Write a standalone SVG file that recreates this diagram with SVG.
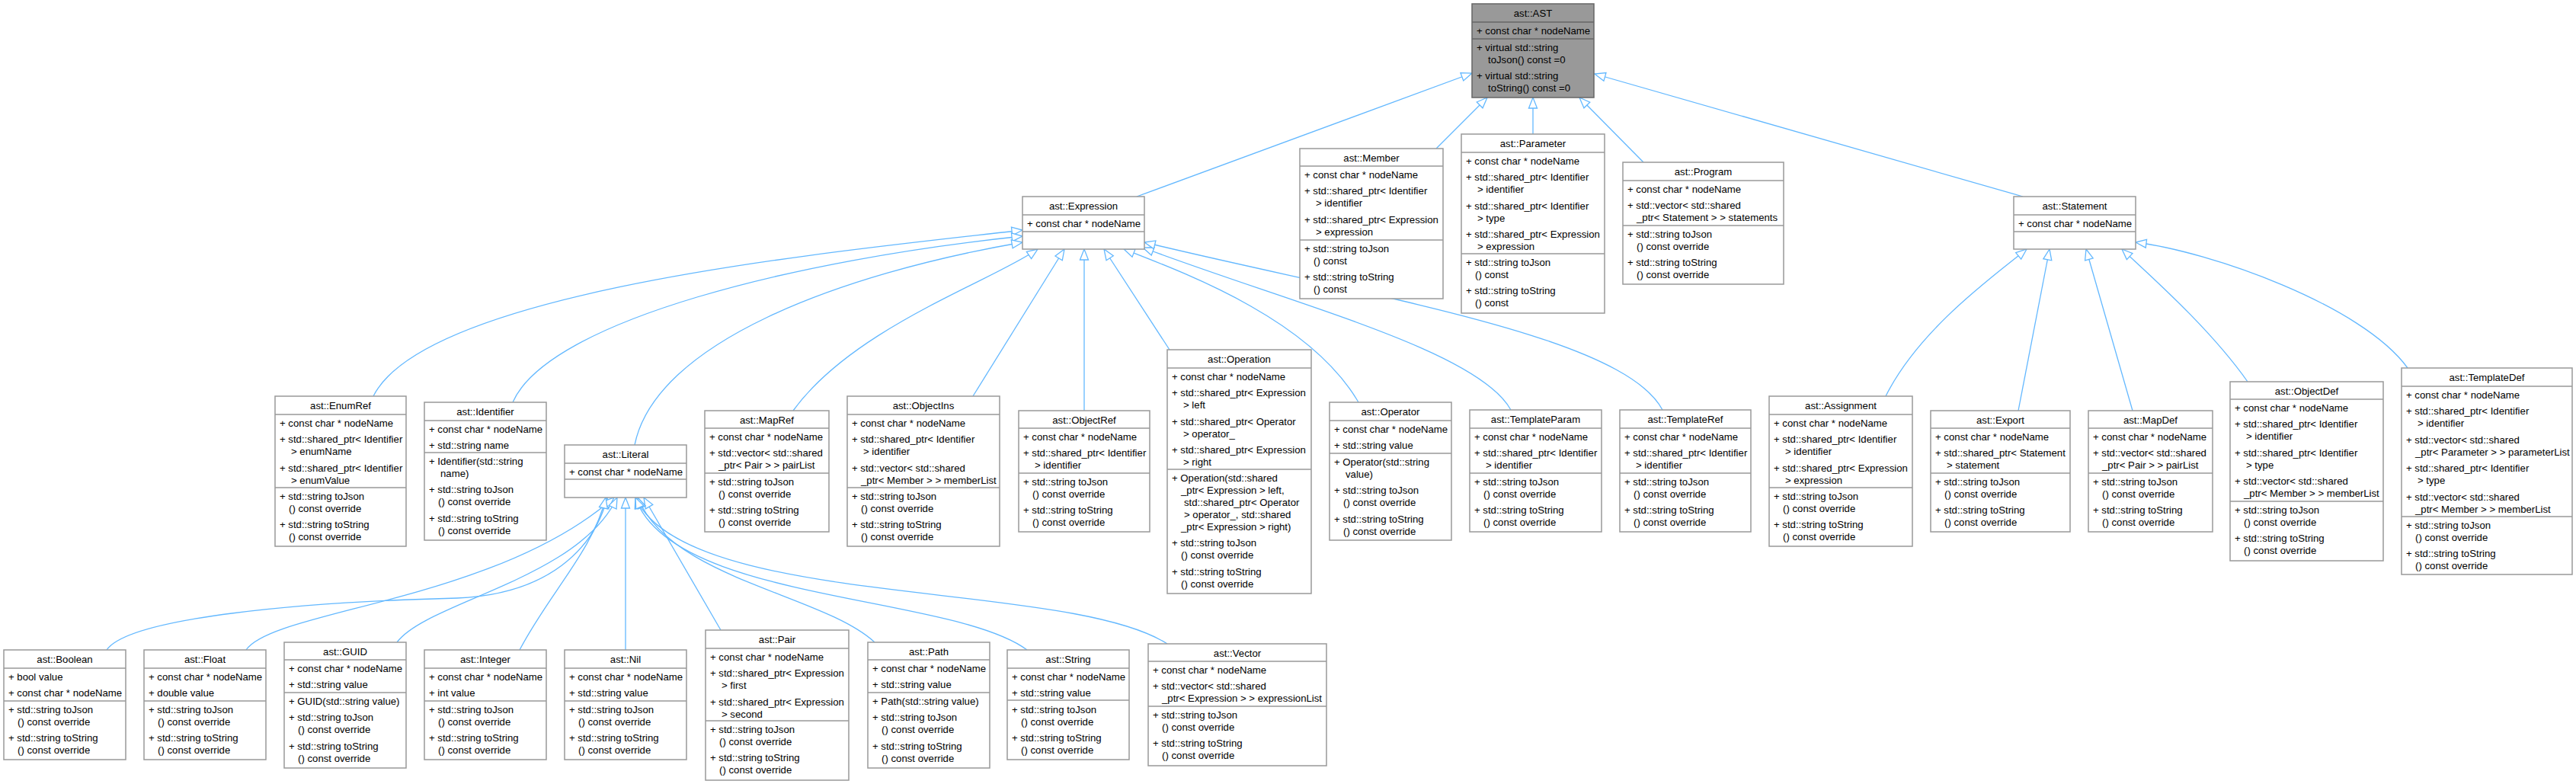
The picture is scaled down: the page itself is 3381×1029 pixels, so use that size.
<svg xmlns="http://www.w3.org/2000/svg" width="3381" height="1029" viewBox="0 0 3381 1029">
<style>
.b{fill:#fff;stroke:#999;stroke-width:1.5}
.a{fill:#999;stroke:#666;stroke-width:1.5}
.s{stroke:#999;stroke-width:1.5;fill:none}
.sa{stroke:#666;stroke-width:1.5;fill:none}
text{font-family:"Liberation Sans",Arial,sans-serif;font-size:13.2px;fill:#000}
.h{text-anchor:middle}
.e{fill:none;stroke:#63B8FF;stroke-width:1.3;marker-end:url(#ah)}
</style>
<defs>
<marker id="ah" markerUnits="userSpaceOnUse" markerWidth="18" markerHeight="14" refX="15" refY="6" orient="auto" overflow="visible">
<path d="M1,0.5 L15,6 L1,11.5 Z" fill="#fff" stroke="#63B8FF" stroke-width="1.3"/>
</marker>
</defs>
<rect width="3381" height="1029" fill="#fff"/>
<g id="connectors">
<path class="e" d="M1492,258 L1932,96"/>
<path class="e" d="M1885,195 L1952,128"/>
<path class="e" d="M2012,176 L2012,128"/>
<path class="e" d="M2157,213 L2073,128"/>
<path class="e" d="M2655,258 L2093,97"/>
<path class="e" d="M490,520 C560,380 1100,330 1342,302"/>
<path class="e" d="M673,528 C720,420 1050,340 1342,310"/>
<path class="e" d="M833,584 C860,450 1100,360 1342,318"/>
<path class="e" d="M1041,539 C1120,430 1300,370 1362,327"/>
<path class="e" d="M1277,520 L1397,327"/>
<path class="e" d="M1423,539 L1423,327"/>
<path class="e" d="M1535,459 L1449,327"/>
<path class="e" d="M1783,528 C1720,420 1560,360 1475,327"/>
<path class="e" d="M1983,538 C1940,460 1700,400 1500,325"/>
<path class="e" d="M2182,538 C2130,440 1800,390 1502,318"/>
<path class="e" d="M2475,520 C2520,430 2620,360 2660,327"/>
<path class="e" d="M2649,539 L2690,327"/>
<path class="e" d="M2799,539 L2738,327"/>
<path class="e" d="M2950,501 C2900,430 2820,360 2785,327"/>
<path class="e" d="M3160,483 C3100,400 2900,330 2803,318"/>
<path class="e" d="M140,853 C170,810 400,790 600,785 C720,780 780,720 797,653"/>
<path class="e" d="M323,853 C360,800 650,790 806,653"/>
<path class="e" d="M521,843 C560,790 760,760 810,653"/>
<path class="e" d="M682,853 C720,780 780,720 795,653"/>
<path class="e" d="M821,853 L821,653"/>
<path class="e" d="M946,827 L845,653"/>
<path class="e" d="M1148,843 C1080,780 880,760 837,653"/>
<path class="e" d="M1348,853 C1250,780 880,790 834,653"/>
<path class="e" d="M1532,845 C1400,760 900,800 834,653"/>
</g>
<g id="AST">
<rect class="a" x="1932" y="5" width="160" height="123"/>
<path class="sa" d="M1932,29h160M1932,51h160"/>
<text class="h" x="2012" y="21.5">ast::AST</text>
<text x="1938" y="44.5">+ const char * nodeName</text>
<text x="1938" y="66.5">+ virtual std::string</text>
<text x="1953" y="82.5">toJson() const =0</text>
<text x="1938" y="104">+ virtual std::string</text>
<text x="1953" y="120">toString() const =0</text>
</g>
<g id="Member">
<rect class="b" x="1706" y="195" width="188" height="197"/>
<path class="s" d="M1706,218h188M1706,315h188"/>
<text class="h" x="1800" y="211.5">ast::Member</text>
<text x="1712" y="233.5">+ const char * nodeName</text>
<text x="1712" y="255">+ std::shared_ptr&lt; Identifier</text>
<text x="1727" y="271">&gt; identifier</text>
<text x="1712" y="292.5">+ std::shared_ptr&lt; Expression</text>
<text x="1727" y="308.5">&gt; expression</text>
<text x="1712" y="330.5">+ std::string toJson</text>
<text x="1724" y="346.5">() const</text>
<text x="1712" y="368">+ std::string toString</text>
<text x="1724" y="384">() const</text>
</g>
<g id="Parameter">
<rect class="b" x="1918" y="176" width="188" height="235"/>
<path class="s" d="M1918,200h188M1918,333h188"/>
<text class="h" x="2012" y="192.5">ast::Parameter</text>
<text x="1924" y="215.5">+ const char * nodeName</text>
<text x="1924" y="237">+ std::shared_ptr&lt; Identifier</text>
<text x="1939" y="253">&gt; identifier</text>
<text x="1924" y="274.5">+ std::shared_ptr&lt; Identifier</text>
<text x="1939" y="290.5">&gt; type</text>
<text x="1924" y="312">+ std::shared_ptr&lt; Expression</text>
<text x="1939" y="328">&gt; expression</text>
<text x="1924" y="348.5">+ std::string toJson</text>
<text x="1936" y="364.5">() const</text>
<text x="1924" y="386">+ std::string toString</text>
<text x="1936" y="402">() const</text>
</g>
<g id="Program">
<rect class="b" x="2130" y="213" width="211" height="160"/>
<path class="s" d="M2130,237h211M2130,296h211"/>
<text class="h" x="2235.5" y="229.5">ast::Program</text>
<text x="2136" y="252.5">+ const char * nodeName</text>
<text x="2136" y="274">+ std::vector&lt; std::shared</text>
<text x="2148" y="290">_ptr&lt; Statement &gt; &gt; statements</text>
<text x="2136" y="311.5">+ std::string toJson</text>
<text x="2148" y="327.5">() const override</text>
<text x="2136" y="349">+ std::string toString</text>
<text x="2148" y="365">() const override</text>
</g>
<g id="Expression">
<rect class="b" x="1342" y="258" width="160" height="69"/>
<path class="s" d="M1342,282h160M1342,304h160"/>
<text class="h" x="1422" y="274.5">ast::Expression</text>
<text x="1348" y="297.5">+ const char * nodeName</text>
</g>
<g id="Statement">
<rect class="b" x="2643" y="258" width="160" height="69"/>
<path class="s" d="M2643,282h160M2643,304h160"/>
<text class="h" x="2723" y="274.5">ast::Statement</text>
<text x="2649" y="297.5">+ const char * nodeName</text>
</g>
<g id="EnumRef">
<rect class="b" x="361" y="520" width="172" height="197"/>
<path class="s" d="M361,544h172M361,640h172"/>
<text class="h" x="447" y="536.5">ast::EnumRef</text>
<text x="367" y="559.5">+ const char * nodeName</text>
<text x="367" y="581">+ std::shared_ptr&lt; Identifier</text>
<text x="382" y="597">&gt; enumName</text>
<text x="367" y="618.5">+ std::shared_ptr&lt; Identifier</text>
<text x="382" y="634.5">&gt; enumValue</text>
<text x="367" y="655.5">+ std::string toJson</text>
<text x="379" y="671.5">() const override</text>
<text x="367" y="693">+ std::string toString</text>
<text x="379" y="709">() const override</text>
</g>
<g id="Identifier">
<rect class="b" x="557" y="528" width="160" height="181"/>
<path class="s" d="M557,552h160M557,594h160"/>
<text class="h" x="637" y="544.5">ast::Identifier</text>
<text x="563" y="567.5">+ const char * nodeName</text>
<text x="563" y="589">+ std::string name</text>
<text x="563" y="609.5">+ Identifier(std::string</text>
<text x="578" y="625.5">name)</text>
<text x="563" y="647">+ std::string toJson</text>
<text x="575" y="663">() const override</text>
<text x="563" y="684.5">+ std::string toString</text>
<text x="575" y="700.5">() const override</text>
</g>
<g id="Literal">
<rect class="b" x="741" y="584" width="160" height="69"/>
<path class="s" d="M741,608h160M741,629h160"/>
<text class="h" x="821" y="600.5">ast::Literal</text>
<text x="747" y="623.5">+ const char * nodeName</text>
</g>
<g id="MapRef">
<rect class="b" x="925" y="539" width="163" height="159"/>
<path class="s" d="M925,562h163M925,621h163"/>
<text class="h" x="1006.5" y="555.5">ast::MapRef</text>
<text x="931" y="577.5">+ const char * nodeName</text>
<text x="931" y="599">+ std::vector&lt; std::shared</text>
<text x="943" y="615">_ptr&lt; Pair &gt; &gt; pairList</text>
<text x="931" y="636.5">+ std::string toJson</text>
<text x="943" y="652.5">() const override</text>
<text x="931" y="674">+ std::string toString</text>
<text x="943" y="690">() const override</text>
</g>
<g id="ObjectIns">
<rect class="b" x="1112" y="520" width="200" height="197"/>
<path class="s" d="M1112,544h200M1112,640h200"/>
<text class="h" x="1212" y="536.5">ast::ObjectIns</text>
<text x="1118" y="559.5">+ const char * nodeName</text>
<text x="1118" y="581">+ std::shared_ptr&lt; Identifier</text>
<text x="1133" y="597">&gt; identifier</text>
<text x="1118" y="618.5">+ std::vector&lt; std::shared</text>
<text x="1130" y="634.5">_ptr&lt; Member &gt; &gt; memberList</text>
<text x="1118" y="655.5">+ std::string toJson</text>
<text x="1130" y="671.5">() const override</text>
<text x="1118" y="693">+ std::string toString</text>
<text x="1130" y="709">() const override</text>
</g>
<g id="ObjectRef">
<rect class="b" x="1337" y="539" width="172" height="159"/>
<path class="s" d="M1337,562h172M1337,621h172"/>
<text class="h" x="1423" y="555.5">ast::ObjectRef</text>
<text x="1343" y="577.5">+ const char * nodeName</text>
<text x="1343" y="599">+ std::shared_ptr&lt; Identifier</text>
<text x="1358" y="615">&gt; identifier</text>
<text x="1343" y="636.5">+ std::string toJson</text>
<text x="1355" y="652.5">() const override</text>
<text x="1343" y="674">+ std::string toString</text>
<text x="1355" y="690">() const override</text>
</g>
<g id="Operation">
<rect class="b" x="1532" y="459" width="189" height="320"/>
<path class="s" d="M1532,483h189M1532,616h189"/>
<text class="h" x="1626.5" y="475.5">ast::Operation</text>
<text x="1538" y="498.5">+ const char * nodeName</text>
<text x="1538" y="520">+ std::shared_ptr&lt; Expression</text>
<text x="1553" y="536">&gt; left</text>
<text x="1538" y="557.5">+ std::shared_ptr&lt; Operator</text>
<text x="1553" y="573.5">&gt; operator_</text>
<text x="1538" y="595">+ std::shared_ptr&lt; Expression</text>
<text x="1553" y="611">&gt; right</text>
<text x="1538" y="631.5">+ Operation(std::shared</text>
<text x="1550" y="647.5">_ptr&lt; Expression &gt; left,</text>
<text x="1554" y="663.5">std::shared_ptr&lt; Operator</text>
<text x="1554" y="679.5">&gt; operator_, std::shared</text>
<text x="1550" y="695.5">_ptr&lt; Expression &gt; right)</text>
<text x="1538" y="717">+ std::string toJson</text>
<text x="1550" y="733">() const override</text>
<text x="1538" y="754.5">+ std::string toString</text>
<text x="1550" y="770.5">() const override</text>
</g>
<g id="Operator">
<rect class="b" x="1745" y="528" width="160" height="181"/>
<path class="s" d="M1745,552h160M1745,595h160"/>
<text class="h" x="1825" y="544.5">ast::Operator</text>
<text x="1751" y="567.5">+ const char * nodeName</text>
<text x="1751" y="589">+ std::string value</text>
<text x="1751" y="610.5">+ Operator(std::string</text>
<text x="1766" y="626.5">value)</text>
<text x="1751" y="648">+ std::string toJson</text>
<text x="1763" y="664">() const override</text>
<text x="1751" y="685.5">+ std::string toString</text>
<text x="1763" y="701.5">() const override</text>
</g>
<g id="TemplateParam">
<rect class="b" x="1929" y="538" width="173" height="160"/>
<path class="s" d="M1929,562h173M1929,621h173"/>
<text class="h" x="2015.5" y="554.5">ast::TemplateParam</text>
<text x="1935" y="577.5">+ const char * nodeName</text>
<text x="1935" y="599">+ std::shared_ptr&lt; Identifier</text>
<text x="1950" y="615">&gt; identifier</text>
<text x="1935" y="636.5">+ std::string toJson</text>
<text x="1947" y="652.5">() const override</text>
<text x="1935" y="674">+ std::string toString</text>
<text x="1947" y="690">() const override</text>
</g>
<g id="TemplateRef">
<rect class="b" x="2126" y="538" width="172" height="160"/>
<path class="s" d="M2126,562h172M2126,621h172"/>
<text class="h" x="2212" y="554.5">ast::TemplateRef</text>
<text x="2132" y="577.5">+ const char * nodeName</text>
<text x="2132" y="599">+ std::shared_ptr&lt; Identifier</text>
<text x="2147" y="615">&gt; identifier</text>
<text x="2132" y="636.5">+ std::string toJson</text>
<text x="2144" y="652.5">() const override</text>
<text x="2132" y="674">+ std::string toString</text>
<text x="2144" y="690">() const override</text>
</g>
<g id="Assignment">
<rect class="b" x="2322" y="520" width="188" height="197"/>
<path class="s" d="M2322,544h188M2322,640h188"/>
<text class="h" x="2416" y="536.5">ast::Assignment</text>
<text x="2328" y="559.5">+ const char * nodeName</text>
<text x="2328" y="581">+ std::shared_ptr&lt; Identifier</text>
<text x="2343" y="597">&gt; identifier</text>
<text x="2328" y="618.5">+ std::shared_ptr&lt; Expression</text>
<text x="2343" y="634.5">&gt; expression</text>
<text x="2328" y="655.5">+ std::string toJson</text>
<text x="2340" y="671.5">() const override</text>
<text x="2328" y="693">+ std::string toString</text>
<text x="2340" y="709">() const override</text>
</g>
<g id="Export">
<rect class="b" x="2534" y="539" width="183" height="159"/>
<path class="s" d="M2534,562h183M2534,621h183"/>
<text class="h" x="2625.5" y="555.5">ast::Export</text>
<text x="2540" y="577.5">+ const char * nodeName</text>
<text x="2540" y="599">+ std::shared_ptr&lt; Statement</text>
<text x="2555" y="615">&gt; statement</text>
<text x="2540" y="636.5">+ std::string toJson</text>
<text x="2552" y="652.5">() const override</text>
<text x="2540" y="674">+ std::string toString</text>
<text x="2552" y="690">() const override</text>
</g>
<g id="MapDef">
<rect class="b" x="2741" y="539" width="163" height="159"/>
<path class="s" d="M2741,562h163M2741,621h163"/>
<text class="h" x="2822.5" y="555.5">ast::MapDef</text>
<text x="2747" y="577.5">+ const char * nodeName</text>
<text x="2747" y="599">+ std::vector&lt; std::shared</text>
<text x="2759" y="615">_ptr&lt; Pair &gt; &gt; pairList</text>
<text x="2747" y="636.5">+ std::string toJson</text>
<text x="2759" y="652.5">() const override</text>
<text x="2747" y="674">+ std::string toString</text>
<text x="2759" y="690">() const override</text>
</g>
<g id="ObjectDef">
<rect class="b" x="2927" y="501" width="201" height="235"/>
<path class="s" d="M2927,524h201M2927,658h201"/>
<text class="h" x="3027.5" y="517.5">ast::ObjectDef</text>
<text x="2933" y="539.5">+ const char * nodeName</text>
<text x="2933" y="561">+ std::shared_ptr&lt; Identifier</text>
<text x="2948" y="577">&gt; identifier</text>
<text x="2933" y="598.5">+ std::shared_ptr&lt; Identifier</text>
<text x="2948" y="614.5">&gt; type</text>
<text x="2933" y="636">+ std::vector&lt; std::shared</text>
<text x="2945" y="652">_ptr&lt; Member &gt; &gt; memberList</text>
<text x="2933" y="673.5">+ std::string toJson</text>
<text x="2945" y="689.5">() const override</text>
<text x="2933" y="711">+ std::string toString</text>
<text x="2945" y="727">() const override</text>
</g>
<g id="TemplateDef">
<rect class="b" x="3152" y="483" width="224" height="271"/>
<path class="s" d="M3152,507h224M3152,678h224"/>
<text class="h" x="3264" y="499.5">ast::TemplateDef</text>
<text x="3158" y="522.5">+ const char * nodeName</text>
<text x="3158" y="544">+ std::shared_ptr&lt; Identifier</text>
<text x="3173" y="560">&gt; identifier</text>
<text x="3158" y="581.5">+ std::vector&lt; std::shared</text>
<text x="3170" y="597.5">_ptr&lt; Parameter &gt; &gt; parameterList</text>
<text x="3158" y="619">+ std::shared_ptr&lt; Identifier</text>
<text x="3173" y="635">&gt; type</text>
<text x="3158" y="656.5">+ std::vector&lt; std::shared</text>
<text x="3170" y="672.5">_ptr&lt; Member &gt; &gt; memberList</text>
<text x="3158" y="693.5">+ std::string toJson</text>
<text x="3170" y="709.5">() const override</text>
<text x="3158" y="731">+ std::string toString</text>
<text x="3170" y="747">() const override</text>
</g>
<g id="Boolean">
<rect class="b" x="5" y="853" width="160" height="144"/>
<path class="s" d="M5,877h160M5,920h160"/>
<text class="h" x="85" y="869.5">ast::Boolean</text>
<text x="11" y="892.5">+ bool value</text>
<text x="11" y="914">+ const char * nodeName</text>
<text x="11" y="935.5">+ std::string toJson</text>
<text x="23" y="951.5">() const override</text>
<text x="11" y="973">+ std::string toString</text>
<text x="23" y="989">() const override</text>
</g>
<g id="Float">
<rect class="b" x="189" y="853" width="160" height="144"/>
<path class="s" d="M189,877h160M189,920h160"/>
<text class="h" x="269" y="869.5">ast::Float</text>
<text x="195" y="892.5">+ const char * nodeName</text>
<text x="195" y="914">+ double value</text>
<text x="195" y="935.5">+ std::string toJson</text>
<text x="207" y="951.5">() const override</text>
<text x="195" y="973">+ std::string toString</text>
<text x="207" y="989">() const override</text>
</g>
<g id="GUID">
<rect class="b" x="373" y="843" width="160" height="165"/>
<path class="s" d="M373,866h160M373,909h160"/>
<text class="h" x="453" y="859.5">ast::GUID</text>
<text x="379" y="881.5">+ const char * nodeName</text>
<text x="379" y="903">+ std::string value</text>
<text x="379" y="924.5">+ GUID(std::string value)</text>
<text x="379" y="946">+ std::string toJson</text>
<text x="391" y="962">() const override</text>
<text x="379" y="983.5">+ std::string toString</text>
<text x="391" y="999.5">() const override</text>
</g>
<g id="Integer">
<rect class="b" x="557" y="853" width="160" height="144"/>
<path class="s" d="M557,877h160M557,920h160"/>
<text class="h" x="637" y="869.5">ast::Integer</text>
<text x="563" y="892.5">+ const char * nodeName</text>
<text x="563" y="914">+ int value</text>
<text x="563" y="935.5">+ std::string toJson</text>
<text x="575" y="951.5">() const override</text>
<text x="563" y="973">+ std::string toString</text>
<text x="575" y="989">() const override</text>
</g>
<g id="Nil">
<rect class="b" x="741" y="853" width="160" height="144"/>
<path class="s" d="M741,877h160M741,920h160"/>
<text class="h" x="821" y="869.5">ast::Nil</text>
<text x="747" y="892.5">+ const char * nodeName</text>
<text x="747" y="914">+ std::string value</text>
<text x="747" y="935.5">+ std::string toJson</text>
<text x="759" y="951.5">() const override</text>
<text x="747" y="973">+ std::string toString</text>
<text x="759" y="989">() const override</text>
</g>
<g id="Pair">
<rect class="b" x="926" y="827" width="188" height="197"/>
<path class="s" d="M926,851h188M926,946h188"/>
<text class="h" x="1020" y="843.5">ast::Pair</text>
<text x="932" y="866.5">+ const char * nodeName</text>
<text x="932" y="888">+ std::shared_ptr&lt; Expression</text>
<text x="947" y="904">&gt; first</text>
<text x="932" y="925.5">+ std::shared_ptr&lt; Expression</text>
<text x="947" y="941.5">&gt; second</text>
<text x="932" y="961.5">+ std::string toJson</text>
<text x="944" y="977.5">() const override</text>
<text x="932" y="999">+ std::string toString</text>
<text x="944" y="1015">() const override</text>
</g>
<g id="Path">
<rect class="b" x="1139" y="843" width="160" height="165"/>
<path class="s" d="M1139,866h160M1139,909h160"/>
<text class="h" x="1219" y="859.5">ast::Path</text>
<text x="1145" y="881.5">+ const char * nodeName</text>
<text x="1145" y="903">+ std::string value</text>
<text x="1145" y="924.5">+ Path(std::string value)</text>
<text x="1145" y="946">+ std::string toJson</text>
<text x="1157" y="962">() const override</text>
<text x="1145" y="983.5">+ std::string toString</text>
<text x="1157" y="999.5">() const override</text>
</g>
<g id="String">
<rect class="b" x="1322" y="853" width="160" height="144"/>
<path class="s" d="M1322,877h160M1322,919h160"/>
<text class="h" x="1402" y="869.5">ast::String</text>
<text x="1328" y="892.5">+ const char * nodeName</text>
<text x="1328" y="914">+ std::string value</text>
<text x="1328" y="935.5">+ std::string toJson</text>
<text x="1340" y="951.5">() const override</text>
<text x="1328" y="973">+ std::string toString</text>
<text x="1340" y="989">() const override</text>
</g>
<g id="Vector">
<rect class="b" x="1507" y="845" width="234" height="160"/>
<path class="s" d="M1507,868h234M1507,927h234"/>
<text class="h" x="1624" y="861.5">ast::Vector</text>
<text x="1513" y="883.5">+ const char * nodeName</text>
<text x="1513" y="905">+ std::vector&lt; std::shared</text>
<text x="1525" y="921">_ptr&lt; Expression &gt; &gt; expressionList</text>
<text x="1513" y="942.5">+ std::string toJson</text>
<text x="1525" y="958.5">() const override</text>
<text x="1513" y="980">+ std::string toString</text>
<text x="1525" y="996">() const override</text>
</g>
</svg>
